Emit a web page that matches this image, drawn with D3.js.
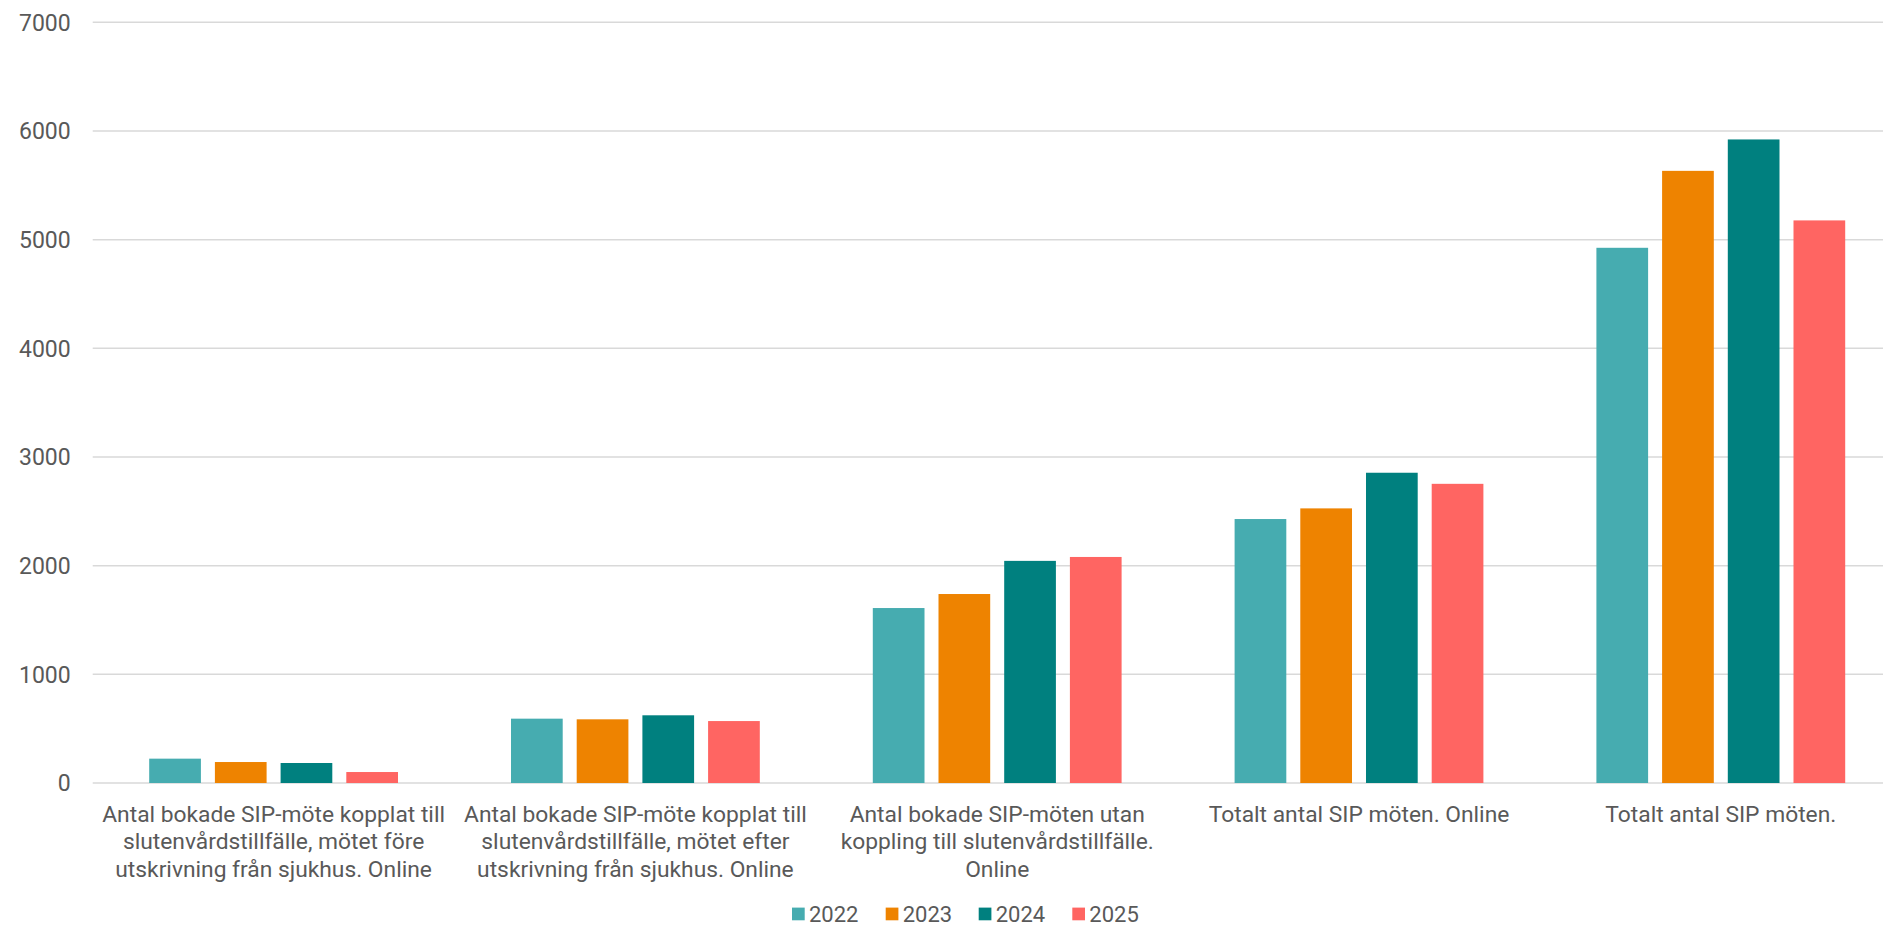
<!DOCTYPE html>
<html>
<head>
<meta charset="utf-8">
<script src="https://cdn.jsdelivr.net/npm/d3@7"></script>
<style>
  html, body { margin: 0; padding: 0; background: #ffffff; overflow: hidden; }
  svg { display: block; }
  text { font-family: Roboto, "Liberation Sans", sans-serif; fill: #595959; }
</style>
</head>
<body>
<svg id="chart" width="1883" height="928"></svg>
<script>
// ---- data ----
const categories = [
  ["Antal bokade SIP-möte kopplat till", "slutenvårdstillfälle, mötet före", "utskrivning från sjukhus. Online"],
  ["Antal bokade SIP-möte kopplat till", "slutenvårdstillfälle, mötet efter", "utskrivning från sjukhus. Online"],
  ["Antal bokade SIP-möten utan", "koppling till slutenvårdstillfälle.", "Online"],
  ["Totalt antal SIP möten. Online"],
  ["Totalt antal SIP möten."]
];
const years = ["2022", "2023", "2024", "2025"];
const values2022 = [224, 592, 1610, 2429, 4925];
const values2023 = [193, 586, 1739, 2527, 5633];
const values2024 = [184, 623, 2044, 2855, 5922];
const values2025 = [101, 570, 2080, 2753, 5177];
const yTicks = [0, 1000, 2000, 3000, 4000, 5000, 6000, 7000];
const colors = ["#46ACB0", "#EE8300", "#00807F", "#FF6562"];

const seriesValues = [values2022, values2023, values2024, values2025];

// ---- layout ----
const svg = d3.select("#chart");
const plotLeft = 92.7, plotRight = 1901.7, plotTop = 22.3, plotBottom = 783;

const x0 = d3.scaleBand()
  .domain(d3.range(categories.length))
  .range([plotLeft, plotRight])
  .padding(0);

const x1 = d3.scaleBand()
  .domain(years)
  .range([0, x0.bandwidth()])
  .paddingInner(0.213)
  .paddingOuter(0.86)
  .align(0.5);

const y = d3.scaleLinear().domain([0, 7000]).range([plotBottom, plotTop]);

// gridlines
svg.append("g").selectAll("line")
  .data(yTicks)
  .join("line")
  .attr("x1", plotLeft).attr("x2", plotRight)
  .attr("y1", d => y(d)).attr("y2", d => y(d))
  .attr("stroke", "#d9d9d9")
  .attr("stroke-width", 1.5);

// y tick labels
svg.append("g").selectAll("text")
  .data(yTicks)
  .join("text")
  .attr("x", 70.7)
  .attr("y", d => y(d))
  .attr("dy", "0.36em")
  .attr("text-anchor", "end")
  .style("font-size", "23px")
  .text(d => d);

// bars
const groups = svg.append("g").selectAll("g")
  .data(categories.map((c, i) => i))
  .join("g")
  .attr("transform", i => `translate(${x0(i)},0)`);

groups.selectAll("rect")
  .data(i => years.map((yr, s) => ({ yr, s, v: seriesValues[s][i] })))
  .join("rect")
  .attr("x", d => x1(d.yr))
  .attr("width", x1.bandwidth())
  .attr("y", d => y(d.v))
  .attr("height", d => y(0) - y(d.v))
  .attr("fill", d => colors[d.s]);

// category labels
const lab = svg.append("g").selectAll("text")
  .data(categories)
  .join("text")
  .attr("text-anchor", "middle")
  .style("font-size", "22.8px")
  .attr("transform", (c, i) => `translate(${x0(i) + x0.bandwidth() / 2},0)`);

lab.selectAll("tspan")
  .data(c => c)
  .join("tspan")
  .attr("x", 0)
  .attr("y", (d, k) => 813.3 + k * 27.6)
  .attr("dy", "0.36em")
  .text(d => d);

// legend
const legend = svg.append("g");
const legendX = [792, 885.7, 978.7, 1072.3];
const legItems = legend.selectAll("g")
  .data(years)
  .join("g")
  .attr("transform", (d, i) => `translate(${legendX[i]},914)`);
legItems.append("rect")
  .attr("x", 0).attr("y", -6.4)
  .attr("width", 12.7).attr("height", 12.7)
  .attr("fill", (d, i) => colors[i]);
legItems.append("text")
  .attr("x", 17)
  .attr("y", 0)
  .attr("dy", "0.36em")
  .style("font-size", "22px")
  .text(d => d);
</script>
</body>
</html>
